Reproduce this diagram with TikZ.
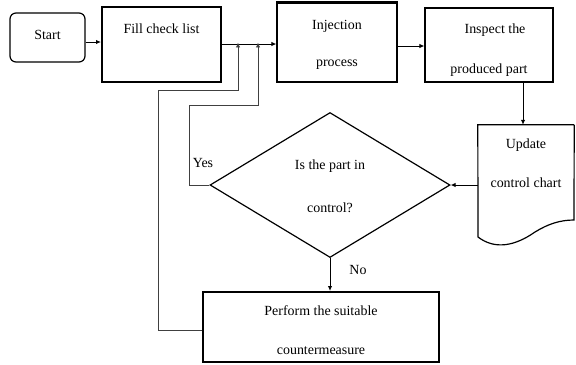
\documentclass[tikz,border=0pt]{standalone}
\usepackage{fontspec}
\setmainfont{Liberation Serif}
\usetikzlibrary{arrows.meta,shapes.geometric}
\begin{document}
\begin{tikzpicture}[x=1bp,y=-1bp,
  box/.style={draw,line width=1.2pt,inner sep=0pt,align=center},
  txt/.style={inner sep=0pt,font=\fontsize{14}{16}\selectfont},
  arr/.style={line width=1pt,-{Latex[length=5pt,width=4.5pt]}},
  fb/.style={line width=0.8pt,draw=black!75,-{Latex[length=5pt,width=4.5pt]}}]
\useasboundingbox (0,0) rectangle (576,364);
% nodes
\node[box,rounded corners=6pt,minimum width=75bp,minimum height=49bp] (start) at (47.5,37.5) {};
\node[txt] (startt) at (47.5,35) {Start};
\node[box,line width=2pt,minimum width=119bp,minimum height=75bp] (fill) at (161.5,44.5) {};
\node[txt] (fillt) at (161.5,29) {Fill check list};
\node[box,minimum width=120bp,minimum height=79bp] (inj) at (337,42.5) {};
\draw[line width=3pt] (inj.north west) -- (inj.north east);
\node[txt] (injt1) at (337,26) {Injection};
\node[txt] (injt2) at (337,65) {process};
\node[box,minimum width=128bp,minimum height=74bp] (insp) at (489,45) {};
\node[txt] (inspt1) at (495,30) {Inspect the};
\node[txt] (inspt2) at (489,70) {produced part};
% document shape
\node[minimum width=96bp,minimum height=100bp,inner sep=0pt] (upd) at (526,175) {};
\draw[line width=1.2pt] (upd.north east) -- (upd.north west) -- (478,237)
  .. controls (495,250) and (515,246) .. (535,232)
  .. controls (548,224) and (560,220) .. (574,220) -- (upd.north east);
\node[txt] (updt1) at (526,145) {Update};
\node[txt] (updt2) at (526,183) {control chart};
% diamond
\node[draw,line width=1.2pt,diamond,minimum width=240bp,minimum height=145bp,inner sep=0pt] (dec) at (330,185) {};
\node[txt] (dect1) at (330,166) {Is the part in};
\node[txt] (dect2) at (330,208) {control?};
% countermeasure
\node[box,line width=2pt,minimum width=236bp,minimum height=70bp] (cm) at (321,327) {};
\node[txt] (cmt1) at (321,311) {Perform the suitable};
\node[txt] (cmt2) at (321,351) {countermeasure};
% labels
\node[txt] (yes) at (203,163) {Yes};
\node[txt] (no) at (358,270) {No};
% coordinates
\coordinate (j1) at (238,44);
\coordinate (j2) at (258,44);
% connectors
\draw[arr] (start.east |- 0,42) -- (fill.west |- 0,42);
\draw[arr] (fill.east |- 0,44) -- (inj.west |- 0,44);
\draw[arr] (inj.east |- 0,46) -- (insp.west |- 0,46);
\draw[arr] (insp.south -| 523,0) -- (upd.north -| 523,0);
\draw[arr] (upd.west |- 0,185) -- (dec.east);
\draw[arr] (dec.south) -- (cm.north -| dec.south);
\draw[fb] (dec.west) -- (189,185) -- (189,105) -- (258,105) -- ([yshift=1.5bp]j2);
\draw[fb] (cm.west |- 0,330) -- (158,330) -- (158,90) -- (238,90) -- ([yshift=1.5bp]j1);
\end{tikzpicture}
\end{document}
